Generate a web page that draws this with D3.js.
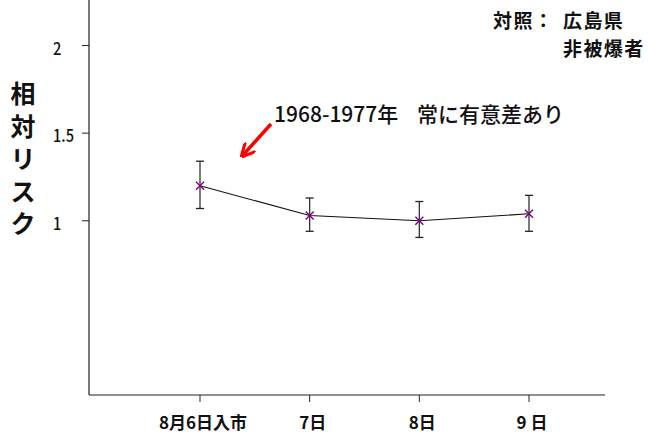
<!DOCTYPE html>
<html>
<head>
<meta charset="utf-8">
<script src="https://cdn.jsdelivr.net/npm/d3@7"></script>
<style>
  body { margin: 0; background: #fff; }
  svg { display: block; }
  .jp { font-family: "Noto Sans CJK JP", "Noto Sans", sans-serif; }
</style>
</head>
<body>
<svg id="chart" width="648" height="434"></svg>
<script>
// Relative risk by day of entry into the city
const categories = ["8月6日入市", "7日", "8日", "9 日"];
const riskValues = [1.20, 1.03, 1.00, 1.04];
const upperCI = [1.34, 1.13, 1.11, 1.145];
const lowerCI = [1.07, 0.94, 0.905, 0.94];
const yTickValues = [1, 1.5, 2];
const yTickLabels = ["1", "1.5", "2"];

const svg = d3.select("#chart");
const axisLeftX = 89, axisRight = 605, axisBottomY = 395;

const x = d3.scalePoint().domain(categories).range([200, 529]);
const y = d3.scaleLinear().domain([0, 2.26]).range([396, 0]);

// y axis line and ticks
svg.append("line").attr("x1", axisLeftX).attr("x2", axisLeftX)
  .attr("y1", 0).attr("y2", axisBottomY).attr("stroke", "#222").attr("stroke-width", 1.2);
svg.selectAll(".ytick").data(yTickValues).enter().append("line")
  .attr("x1", axisLeftX - 7).attr("x2", axisLeftX)
  .attr("y1", d => y(d)).attr("y2", d => y(d)).attr("stroke", "#222");
svg.selectAll(".ylab").data(yTickValues).enter().append("text")
  .attr("class", "jp")
  .attr("transform", d => `translate(53,${y(d) + 9}) scale(0.86,1)`)
  .attr("font-size", 17).attr("font-weight", 500).attr("fill", "#111")
  .text((d, i) => yTickLabels[i]);

// x axis line and ticks
svg.append("line").attr("x1", axisLeftX).attr("x2", axisRight)
  .attr("y1", axisBottomY).attr("y2", axisBottomY).attr("stroke", "#222").attr("stroke-width", 1.2);
svg.selectAll(".xtick").data(categories).enter().append("line")
  .attr("x1", d => x(d)).attr("x2", d => x(d))
  .attr("y1", axisBottomY).attr("y2", axisBottomY + 7).attr("stroke", "#222");
svg.selectAll(".xlab").data(categories).enter().append("text")
  .attr("class", "jp").attr("x", d => x(d) + 3).attr("y", 429)
  .attr("text-anchor", "middle").attr("font-size", 17).attr("font-weight", "bold")
  .attr("fill", "#111").text(d => d);

// y axis title, stacked vertically
const yTitle = ["相", "対", "リ", "ス", "ク"];
svg.selectAll(".ytitle").data(yTitle).enter().append("text")
  .attr("class", "jp").attr("x", 23).attr("y", (d, i) => 103 + i * 32.5)
  .attr("text-anchor", "middle").attr("font-size", 25).attr("font-weight", "bold")
  .attr("fill", "#111").text(d => d);

// error bars
const data = categories.map((c, i) => ({ c, v: riskValues[i], hi: upperCI[i], lo: lowerCI[i] }));
const eb = svg.selectAll(".eb").data(data).enter().append("g");
eb.append("line").attr("x1", d => x(d.c)).attr("x2", d => x(d.c))
  .attr("y1", d => y(d.hi)).attr("y2", d => y(d.lo)).attr("stroke", "#333").attr("stroke-width", 1.3);
eb.append("line").attr("x1", d => x(d.c) - 4).attr("x2", d => x(d.c) + 4)
  .attr("y1", d => y(d.hi)).attr("y2", d => y(d.hi)).attr("stroke", "#222").attr("stroke-width", 1.3);
eb.append("line").attr("x1", d => x(d.c) - 4).attr("x2", d => x(d.c) + 4)
  .attr("y1", d => y(d.lo)).attr("y2", d => y(d.lo)).attr("stroke", "#222").attr("stroke-width", 1.3);

// connecting line
svg.append("path").datum(data)
  .attr("d", d3.line().x(d => x(d.c)).y(d => y(d.v)))
  .attr("fill", "none").attr("stroke", "#111").attr("stroke-width", 1.1);

// cross markers
svg.selectAll(".mk").data(data).enter().append("path")
  .attr("transform", d => `translate(${x(d.c)},${y(d.v)})`)
  .attr("d", "M-4,-4L4,4M-4,4L4,-4")
  .attr("stroke", "#800080").attr("stroke-width", 1.4);

// annotation
svg.append("text").attr("class", "jp").attr("x", 274).attr("y", 122)
  .attr("font-size", 21).attr("font-weight", 500).attr("fill", "#111")
  .text("1968-1977年");
svg.append("text").attr("class", "jp").attr("x", 417).attr("y", 122)
  .attr("font-size", 21).attr("font-weight", 500).attr("fill", "#111")
  .text("常に有意差あり");

svg.append("defs").append("marker").attr("id", "ah")
  .attr("viewBox", "0 0 10 10").attr("refX", 8).attr("refY", 5)
  .attr("markerWidth", 4).attr("markerHeight", 4).attr("orient", "auto")
  .append("path").attr("d", "M0,0L10,5L0,10").attr("fill", "none")
  .attr("stroke", "#ff0000").attr("stroke-width", 2.2);
svg.append("line").attr("x1", 271).attr("y1", 124).attr("x2", 243).attr("y2", 155)
  .attr("stroke", "#ff0000").attr("stroke-width", 3.5).attr("marker-end", "url(#ah)");

// control group note
const noteStyle = sel => sel.attr("class", "jp").attr("font-size", 19)
  .attr("letter-spacing", 1.4).attr("font-weight", "bold").attr("fill", "#111");
svg.append("text").call(noteStyle).attr("x", 493).attr("y", 28).text("対照：");
svg.append("text").call(noteStyle).attr("x", 563).attr("y", 28).text("広島県");
svg.append("text").call(noteStyle).attr("x", 563).attr("y", 56).text("非被爆者");
</script>
</body>
</html>
